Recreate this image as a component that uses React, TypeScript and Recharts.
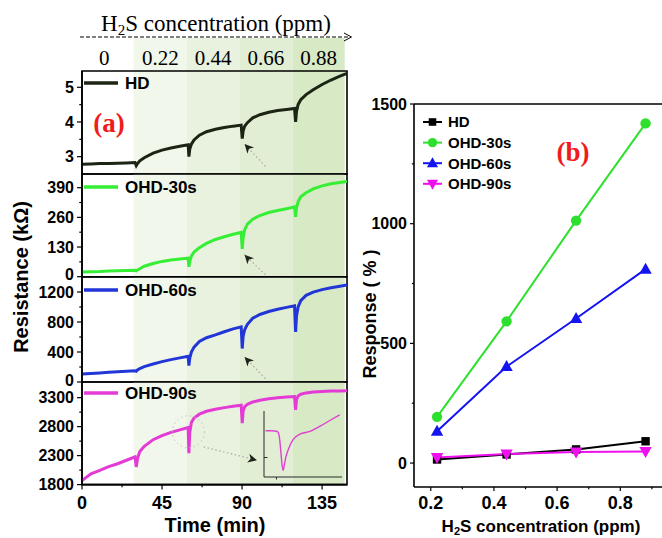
import React from 'react';
import { LineChart, Line, XAxis, YAxis, ReferenceArea, ReferenceLine, ReferenceDot, Legend } from 'recharts';

// ---------------- data ----------------
const timeMin = [0, 5, 10, 15, 20, 25, 29.8, 30.5, 31.2, 32.5, 35, 40, 45, 50, 55, 59.7, 60.1, 60.6, 61.5, 63, 66, 70, 75, 80, 85, 89.5, 90.1, 90.6, 91.5, 93, 96, 100, 105, 110, 115, 119.5, 120.1, 120.6, 121.5, 123, 126, 130, 135, 140, 145, 149];
const hdRes = [2.78, 2.79, 2.8, 2.8, 2.81, 2.82, 2.83, 2.74, 2.8, 2.88, 2.97, 3.1, 3.19, 3.25, 3.3, 3.34, 3.0, 3.22, 3.36, 3.48, 3.62, 3.72, 3.79, 3.84, 3.88, 3.91, 3.52, 3.74, 3.88, 3.98, 4.12, 4.21, 4.28, 4.33, 4.36, 4.39, 4.0, 4.3, 4.5, 4.64, 4.79, 4.93, 5.08, 5.21, 5.32, 5.4];
const ohd30Res = [20, 22, 23, 25, 26, 27, 28, 26, 29, 35, 46, 58, 67, 73, 78, 81, 43, 68, 90, 108, 127, 146, 163, 175, 186, 194, 122, 172, 206, 230, 252, 268, 281, 290, 298, 306, 262, 300, 328, 350, 368, 385, 398, 407, 413, 417];
const ohd60Res = [105, 113, 121, 129, 136, 143, 150, 143, 160, 180, 205, 240, 272, 298, 322, 342, 218, 320, 400, 465, 540, 590, 628, 670, 708, 735, 446, 610, 700, 770, 850, 900, 940, 970, 995, 1015, 668, 880, 1000, 1085, 1155, 1198, 1232, 1257, 1278, 1292];
const ohd90Res = [1870, 1985, 2045, 2110, 2160, 2220, 2280, 2105, 2250, 2370, 2460, 2575, 2645, 2700, 2745, 2785, 2340, 2700, 2870, 2950, 3015, 3065, 3100, 3128, 3150, 3168, 2860, 3070, 3145, 3185, 3225, 3255, 3280, 3298, 3310, 3318, 3090, 3265, 3330, 3360, 3382, 3398, 3407, 3413, 3416, 3418];

const concLabels = ['0', '0.22', '0.44', '0.66', '0.88'];
const bandEdges = [0, 29, 59, 88.5, 118.3, 147.7];

const insetX = [2, 10, 17, 19.5, 21.5, 23, 24.5, 26, 28, 30, 33, 37.5, 46, 59, 72, 85, 97];
const insetY = [70, 70, 69, 62, 40, 20, 10, 18, 30, 38, 47, 57, 65, 69, 77, 86, 94];

const concentration = [0.22, 0.44, 0.66, 0.88];
const respHD = [15, 36, 57, 91];
const resp30 = [193, 592, 1013, 1419];
const resp60 = [133, 403, 604, 810];
const resp90 = [23, 38, 46, 48];

// ---------------- derived tables ----------------
const timeData = timeMin.map((t, i) => ({ t, hd: hdRes[i], o30: ohd30Res[i], o60: ohd60Res[i], o90: ohd90Res[i] }));
const insetData = insetX.map((x, i) => ({ x, y: insetY[i] }));
const respData = concentration.map((c, i) => ({ c, hd: respHD[i], o30: resp30[i], o60: resp60[i], o90: resp90[i] }));
const headerData = timeMin.map((t) => ({ t, v: 0.5 }));

// ---------------- styles ----------------
const FONT = '"Liberation Sans", Arial, sans-serif';
const SERIF = '"Liberation Serif", "Times New Roman", serif';
const bandColors = ['none', '#f1f7ea', '#e8f2de', '#e1eed4', '#d7e9c5'];
const T_DOMAIN: [number, number] = [0, 149];

const isMajor = (majors: number[], v: number) => majors.some((m) => Math.abs(m - v) < 1e-9);

const YTick = (props: any) => {
  const { x, y, payload, majors, len = 5, gap = 8, fontSize = 16, lowShift = 0, low } = props;
  const major = isMajor(majors, payload.value);
  const shift = low !== undefined && Math.abs(payload.value - low) < 1e-9 ? lowShift : 0;
  return (
    <g>
      <line x1={x - (major ? len : len * 0.55)} x2={x} y1={y} y2={y} stroke="#000" strokeWidth={1.2} />
      {major && (
        <text x={x - gap} y={y + shift} dy="0.36em" textAnchor="end" fontFamily={FONT} fontWeight="bold" fontSize={fontSize} fill="#000">
          {payload.value}
        </text>
      )}
    </g>
  );
};

const XTick = (props: any) => {
  const { x, y, payload, majors, len = 5, off = 17, fontSize = 17 } = props;
  const major = isMajor(majors, payload.value);
  return (
    <g>
      <line x1={x} x2={x} y1={y} y2={y + (major ? len : len * 0.55)} stroke="#000" strokeWidth={1.2} />
      {major && (
        <text x={x} y={y + off} dy="0.36em" textAnchor="middle" fontFamily={FONT} fontWeight="bold" fontSize={fontSize} fill="#000">
          {payload.value}
        </text>
      )}
    </g>
  );
};

const ArrowHead = ({ cx, cy, angle }: any) => (
  <polygon points="0,0 -9,-4.5 -6.5,0 -9,4.5" transform={`translate(${cx},${cy}) rotate(${angle})`} fill="#1e2418" />
);

const legendA = (props: any) => {
  const { payload } = props;
  return (
    <div>
      {(payload || []).map((e: any, i: number) => (
        <svg key={i} width={130} height={20} style={{ display: 'block' }}>
          <line x1={0} x2={34} y1={10} y2={10} stroke={e.color} strokeWidth={3.5} />
          <text x={41} y={10} dy="0.36em" fontFamily={FONT} fontWeight="bold" fontSize={17} fill="#000">{e.value}</text>
        </svg>
      ))}
    </div>
  );
};

const Marker = ({ shape, cx, cy, color, s = 1 }: any) => {
  if (shape === 'square') return <rect x={cx - 4.2 * s} y={cy - 4.2 * s} width={8.4 * s} height={8.4 * s} fill={color} />;
  if (shape === 'circle') return <circle cx={cx} cy={cy} r={5.2 * s} fill={color} />;
  if (shape === 'up') return <polygon points={`${cx},${cy - 6.5 * s} ${cx + 6.2 * s},${cy + 4.5 * s} ${cx - 6.2 * s},${cy + 4.5 * s}`} fill={color} />;
  return <polygon points={`${cx},${cy + 6.5 * s} ${cx + 6.2 * s},${cy - 4.5 * s} ${cx - 6.2 * s},${cy - 4.5 * s}`} fill={color} />;
};

const shapeOf: Record<string, string> = { hd: 'square', o30: 'circle', o60: 'up', o90: 'down' };

const makeDot = (shape: string, color: string) => (p: any) => {
  if (p.cx == null || p.cy == null) return <g key={p.index} />;
  return <Marker key={p.index} shape={shape} cx={p.cx} cy={p.cy} color={color} />;
};

const legendB = (props: any) => {
  const { payload } = props;
  return (
    <svg width={110} height={86} style={{ display: 'block' }}>
      {(payload || []).map((e: any, i: number) => {
        const y = 10 + i * 20.6;
        return (
          <g key={i}>
            <line x1={0} x2={19} y1={y} y2={y} stroke={e.color} strokeWidth={2} />
            <Marker shape={shapeOf[e.dataKey]} cx={9.5} cy={y} color={e.color} s={0.9} />
            <text x={25} y={y} dy="0.36em" fontFamily={FONT} fontWeight="bold" fontSize={15} fill="#000">{e.value}</text>
          </g>
        );
      })}
    </svg>
  );
};

type PanelCfg = {
  key: string; name: string; color: string; top: number; h: number;
  domain: [number, number]; ticks: number[]; majors: number[]; legendTop: number;
  arrow?: { tail: [number, number]; tip: [number, number]; angle: number };
  circle?: [number, number];
};

const panels: PanelCfg[] = [
  { key: 'hd', name: 'HD', color: '#1c2414', top: 71, h: 103, domain: [2.5, 5.47], ticks: [3, 3.5, 4, 4.5, 5], majors: [3, 4, 5], legendTop: 13.7,
    arrow: { tail: [103.1, 2.72], tip: [91.4, 3.365], angle: -133 } },
  { key: 'o30', name: 'OHD-30s', color: '#35ee35', top: 174, h: 102.7, domain: [0, 450], ticks: [0, 65, 130, 195, 260, 325, 390], majors: [0, 130, 260, 390], legendTop: 14.7,
    arrow: { tail: [103.1, 8.8], tip: [91.4, 96.4], angle: -133 } },
  { key: 'o60', name: 'OHD-60s', color: '#2236d8', top: 276.7, h: 105, domain: [0, 1400], ticks: [0, 200, 400, 600, 800, 1000, 1200], majors: [0, 400, 800, 1200], legendTop: 15.3,
    arrow: { tail: [103.1, 45], tip: [91.4, 334], angle: -133 } },
  { key: 'o90', name: 'OHD-90s', color: '#e43ad6', top: 381.7, h: 102.6, domain: [1800, 3570], ticks: [1800, 2050, 2300, 2550, 2800, 3050, 3300], majors: [1800, 2300, 2800, 3300], legendTop: 13,
    arrow: { tail: [68.4, 2450], tip: [98.4, 2220], angle: 14 }, circle: [59.8, 2710] },
];

function Panel({ cfg, last }: { cfg: PanelCfg; last: boolean }) {
  const mt = 12;
  const xh = last ? 30 : 0;
  const mb = last ? 0 : 12;
  const height = mt + cfg.h + xh + mb;
  return (
    <div style={{ position: 'absolute', left: 0, top: cfg.top - mt }}>
      <LineChart width={352} height={height} data={timeData} margin={{ top: mt, right: 5, bottom: mb, left: 22 }}>
        {bandEdges.slice(0, -1).map((e, i) =>
          i === 0 ? null : (
            <ReferenceArea key={'b' + i} x1={e} x2={bandEdges[i + 1]} y1={cfg.domain[0]} y2={cfg.domain[1]} fill={bandColors[i]} fillOpacity={1} stroke="none" />
          )
        )}
        <XAxis dataKey="t" type="number" domain={T_DOMAIN} hide={!last} ticks={[0, 22.5, 45, 67.5, 90, 112.5, 135]} interval={0} height={30}
          tickSize={0} tickMargin={0} tickLine={false} axisLine={{ stroke: '#000', strokeWidth: 1.6 }}
          tick={(p: any) => <XTick {...p} majors={[0, 45, 90, 135]} off={17.5} fontSize={18} />} allowDataOverflow />
        <YAxis type="number" domain={cfg.domain} ticks={cfg.ticks} interval={0} width={60} tickSize={0} tickMargin={0} tickLine={false}
          axisLine={{ stroke: '#000', strokeWidth: 1.6 }}
          tick={(p: any) => <YTick {...p} majors={cfg.majors} low={last ? undefined : cfg.domain[0]} lowShift={-2} />} allowDataOverflow />
        <ReferenceArea x1={0} x2={149} y1={cfg.domain[0]} y2={cfg.domain[1]} fill="none" stroke="#000" strokeWidth={1.6} />
        {cfg.circle && (
          <ReferenceDot x={cfg.circle[0]} y={cfg.circle[1]} r={16} fill="none" stroke="#c0c0c0" strokeWidth={1} strokeDasharray="1.5 3" />
        )}
        {cfg.arrow && (
          <ReferenceLine segment={[{ x: cfg.arrow.tail[0], y: cfg.arrow.tail[1] }, { x: cfg.arrow.tip[0], y: cfg.arrow.tip[1] }]}
            stroke="#a8a8a8" strokeWidth={1.2} strokeDasharray="1.5 2.5" />
        )}
        <Line dataKey={cfg.key} name={cfg.name} stroke={cfg.color} strokeWidth={3} dot={false} type="linear" isAnimationActive={false} />
        {cfg.arrow && (
          <ReferenceDot x={cfg.arrow.tip[0]} y={cfg.arrow.tip[1]} r={1}
            shape={(p: any) => <ArrowHead cx={p.cx} cy={p.cy} angle={cfg.arrow!.angle} />} />
        )}
        <Legend layout="vertical" align="center" verticalAlign="middle" wrapperStyle={{ top: cfg.legendTop, left: 84, width: 'auto' }} content={legendA} />
      </LineChart>
    </div>
  );
}

function Header() {
  return (
    <div style={{ position: 'absolute', left: 0, top: 0 }}>
      <LineChart width={352} height={71} data={headerData} margin={{ top: 38, right: 5, bottom: 0, left: 82 }}>
        <XAxis dataKey="t" type="number" domain={T_DOMAIN} hide allowDataOverflow />
        <YAxis type="number" domain={[0, 1]} hide width={0} allowDataOverflow />
        {concLabels.map((lab, i) => (
          <ReferenceArea key={i} x1={i === 0 ? 0 : bandEdges[i]} x2={i === 0 ? 25 : bandEdges[i + 1]} y1={0} y2={1}
            fill={bandColors[i] === 'none' ? '#fff' : bandColors[i]} fillOpacity={bandColors[i] === 'none' ? 0 : 1} stroke="none"
            label={{ value: lab, position: 'center', fontFamily: SERIF, fontSize: 21, fill: '#000', dy: 3 }} />
        ))}
        <Line dataKey="v" stroke="none" strokeWidth={0} dot={false} isAnimationActive={false} legendType="none" />
      </LineChart>
    </div>
  );
}

function Inset() {
  return (
    <div style={{ position: 'absolute', left: 262, top: 409 }}>
      <LineChart width={82} height={72} data={insetData} margin={{ top: 2, right: 2, bottom: 3, left: 1 }}>
        <XAxis dataKey="x" type="number" domain={[0, 100]} height={1} ticks={[16]} interval={0} tickSize={0} tickMargin={0} tickLine={false}
          axisLine={{ stroke: '#2a2a2a', strokeWidth: 1 }}
          tick={(p: any) => <line x1={p.x} x2={p.x} y1={p.y} y2={p.y + 2.5} stroke="#2a2a2a" strokeWidth={1} />} />
        <YAxis type="number" domain={[0, 100]} width={1} ticks={[29.5]} interval={0} tickSize={0} tickMargin={0} tickLine={false}
          axisLine={{ stroke: '#2a2a2a', strokeWidth: 1 }}
          tick={(p: any) => <line x1={p.x} x2={p.x + 3.5} y1={p.y} y2={p.y} stroke="#2a2a2a" strokeWidth={1} />} />
        <Line dataKey="y" stroke="#e040d2" strokeWidth={1.4} dot={false} type="monotone" isAnimationActive={false} />
      </LineChart>
    </div>
  );
}

function ResponseChart() {
  return (
    <div style={{ position: 'absolute', left: 362, top: 80 }}>
      <LineChart width={300} height={452} data={respData} margin={{ top: 24, right: 0, bottom: 0, left: 0 }}>
        <XAxis dataKey="c" type="number" domain={[0.147, 0.932]} ticks={[0.2, 0.3, 0.4, 0.5, 0.6, 0.7, 0.8, 0.9]} interval={0} height={45}
          tickSize={0} tickMargin={0} tickLine={false} axisLine={{ stroke: '#000', strokeWidth: 1.6 }}
          tick={(p: any) => <XTick {...p} majors={[0.2, 0.4, 0.6, 0.8]} len={4} off={15.5} fontSize={18} />} allowDataOverflow />
        <YAxis type="number" domain={[-100, 1500]} ticks={[0, 250, 500, 750, 1000, 1250, 1500]} interval={0} width={52}
          tickSize={0} tickMargin={0} tickLine={false} axisLine={{ stroke: '#000', strokeWidth: 1.6 }}
          tick={(p: any) => <YTick {...p} majors={[0, 500, 1000, 1500]} len={4} gap={7} fontSize={16} />} allowDataOverflow />
        <ReferenceLine y={1500} stroke="#000" strokeWidth={1.6} />
        <Line dataKey="hd" name="HD" stroke="#000" strokeWidth={2} dot={makeDot('square', '#000')} isAnimationActive={false} />
        <Line dataKey="o30" name="OHD-30s" stroke="#2ee02e" strokeWidth={2} dot={makeDot('circle', '#2ee02e')} isAnimationActive={false} />
        <Line dataKey="o60" name="OHD-60s" stroke="#1414f0" strokeWidth={2} dot={makeDot('up', '#1414f0')} isAnimationActive={false} />
        <Line dataKey="o90" name="OHD-90s" stroke="#ee11ee" strokeWidth={2} dot={makeDot('down', '#ee11ee')} isAnimationActive={false} />
        <Legend layout="vertical" align="center" verticalAlign="middle" wrapperStyle={{ top: 32, left: 61, width: 'auto' }} content={legendB} />
      </LineChart>
    </div>
  );
}

function Overlay() {
  return (
    <svg width={662} height={538} style={{ position: 'absolute', left: 0, top: 0, pointerEvents: 'none' }}>
      <text x={216} y={31} textAnchor="middle" fontFamily={SERIF} fontSize={23} fill="#000">
        H<tspan fontSize={15} dy={4}>2</tspan><tspan dy={-4}>S concentration (ppm)</tspan>
      </text>
      <line x1={80} x2={350} y1={37} y2={37} stroke="#000" strokeWidth={1} strokeDasharray="4 2" />
      <polyline points="344,33 351.5,37 344,41" fill="none" stroke="#000" strokeWidth={1} />
      <text x={109} y={122} dy="0.36em" textAnchor="middle" fontFamily={SERIF} fontWeight="bold" fontSize={27} fill="#f01c1c">(a)</text>
      <text x={573} y={151} dy="0.36em" textAnchor="middle" fontFamily={SERIF} fontWeight="bold" fontSize={27} fill="#f01c1c">(b)</text>
      <text transform="translate(21,277) rotate(-90)" textAnchor="middle" dy="0.36em" fontFamily={FONT} fontWeight="bold" fontSize={20} fill="#000">Resistance (kΩ)</text>
      <text x={215} y={532} textAnchor="middle" fontFamily={FONT} fontWeight="bold" fontSize={20} fill="#000">Time (min)</text>
      <text transform="translate(370,314) rotate(-90)" textAnchor="middle" dy="0.36em" fontFamily={FONT} fontWeight="bold" fontSize={18} fill="#000">Response ( % )</text>
      <text x={541} y={532} textAnchor="middle" fontFamily={FONT} fontWeight="bold" fontSize={17} fill="#000">
        H<tspan fontSize={11} dy={3}>2</tspan><tspan dy={-3}>S concentration (ppm)</tspan>
      </text>
    </svg>
  );
}

export default function App() {
  return (
    <div style={{ position: 'absolute', left: 0, top: 0, width: 662, height: 538, background: '#fff', overflow: 'hidden' }}>
      <Header />
      {panels.map((cfg, i) => (
        <Panel key={cfg.key} cfg={cfg} last={i === panels.length - 1} />
      ))}
      <Inset />
      <ResponseChart />
      <Overlay />
    </div>
  );
}
